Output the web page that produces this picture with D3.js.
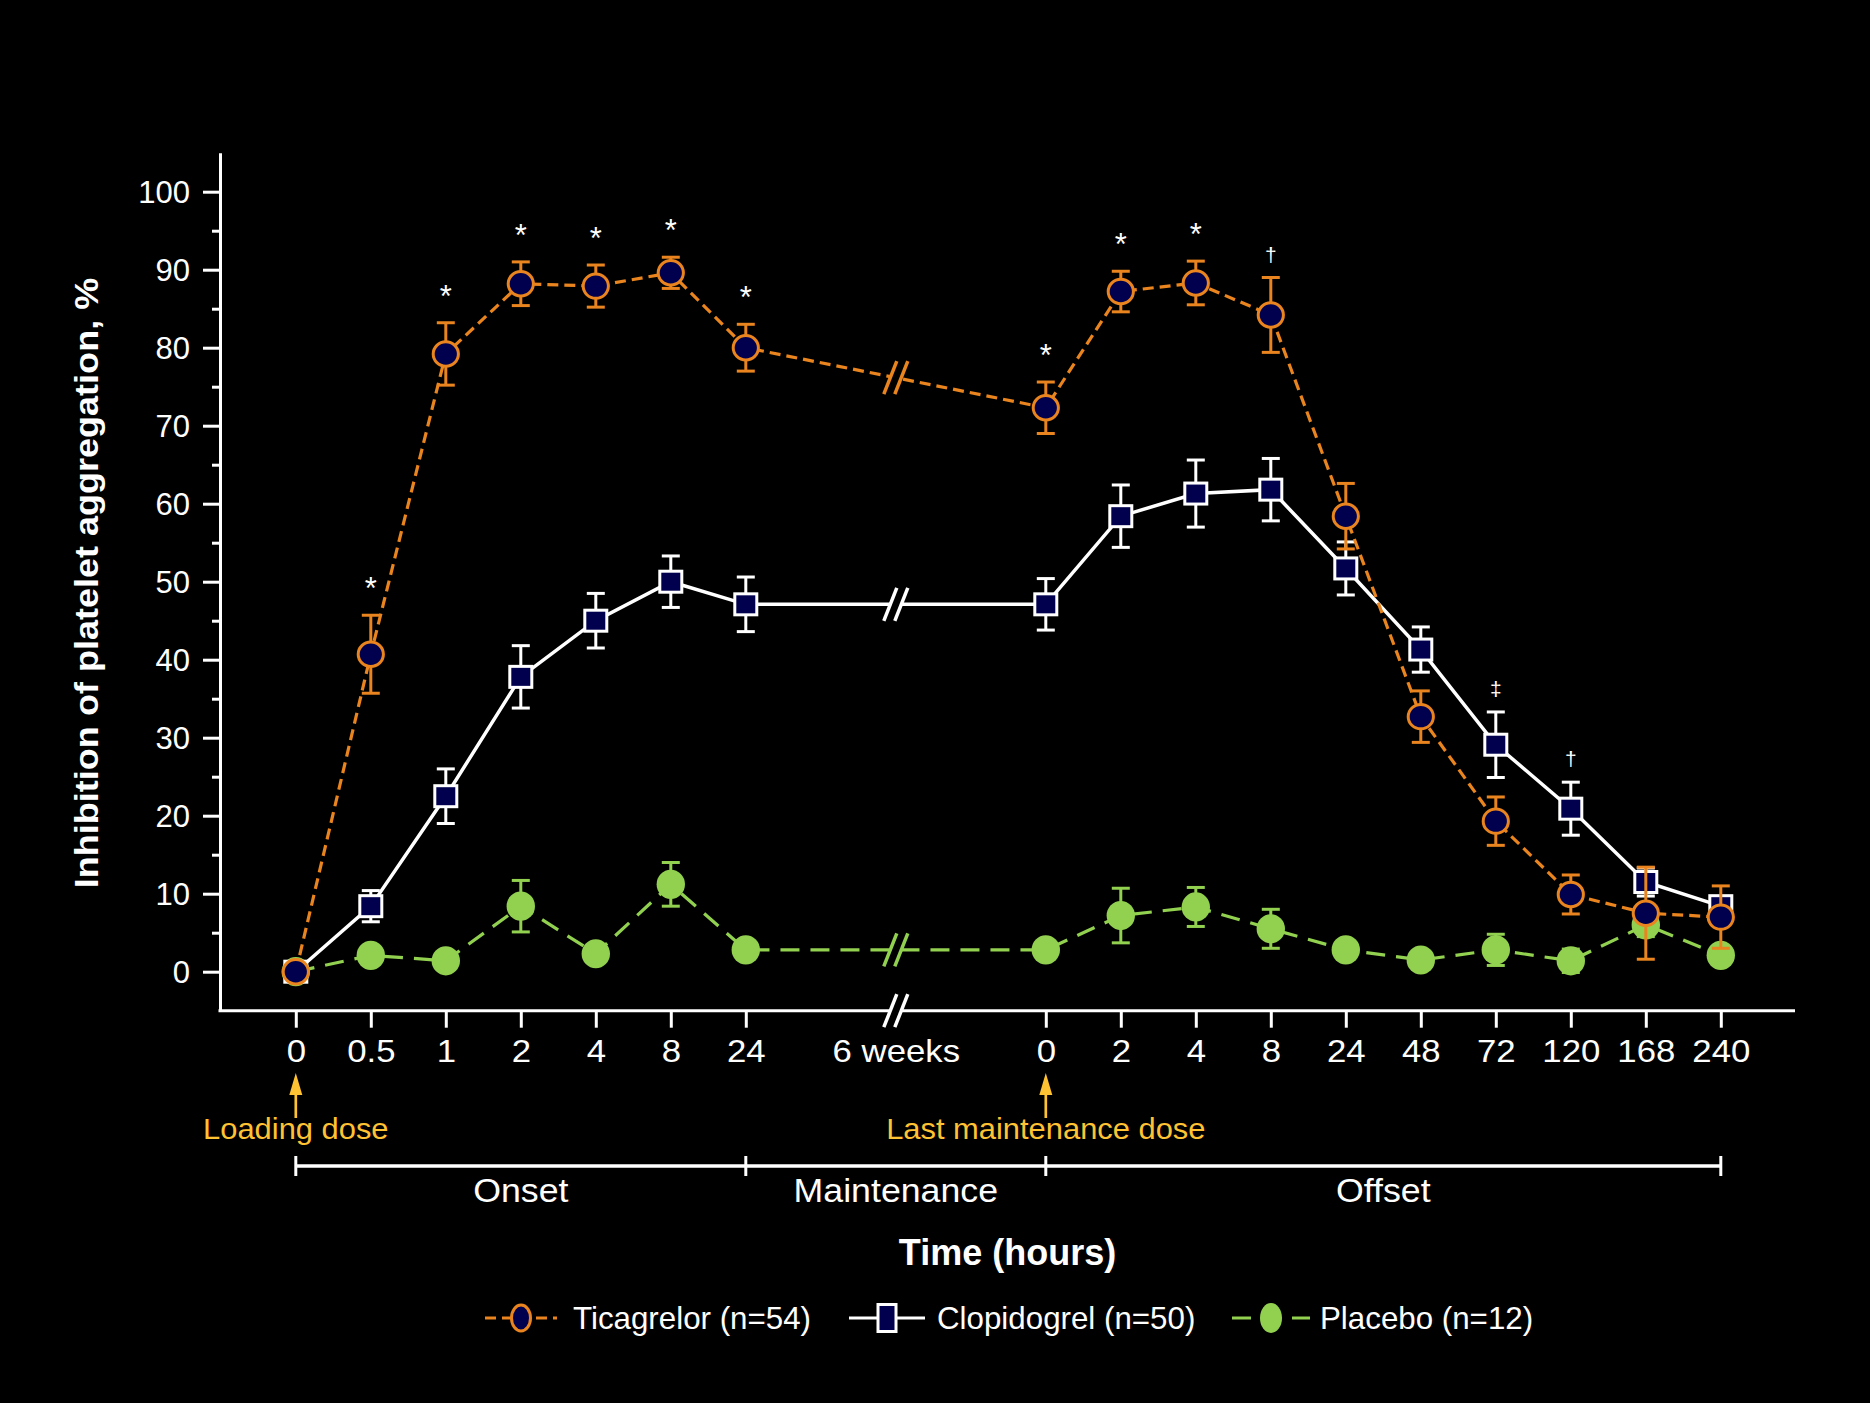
<!DOCTYPE html>
<html><head><meta charset="utf-8">
<script src="https://cdn.jsdelivr.net/npm/d3@7"></script>
<style>html,body{margin:0;background:#000;}svg{display:block;}</style>
</head><body>
<svg id="chart" width="1870" height="1403"></svg>
<script>
// ---------------- data ----------------
const timeLabels = ["0","0.5","1","2","4","8","24","6 weeks","0","2","4","8","24","48","72","120","168","240"];
const ticagrelor    = [0, 40.7, 79.2, 88.2, 87.9, 89.6, 80.0, null, 72.3, 87.2, 88.3, 84.2, 58.4, 32.7, 19.3, 9.9, 7.5, 7.0];
const ticagrelorErr = [0, 5.0, 4.0, 2.8, 2.7, 2.0, 3.0, null, 3.3, 2.6, 2.8, 4.8, 4.2, 3.3, 3.1, 2.5, 5.9, 4.0];
const clopidogrel    = [0, 8.4, 22.5, 37.8, 45.0, 50.0, 47.1, null, 47.1, 58.4, 61.3, 61.8, 51.7, 41.3, 29.1, 20.9, 11.5, 8.4];
const clopidogrelErr = [0, 2.0, 3.5, 4.0, 3.5, 3.3, 3.5, null, 3.3, 4.0, 4.3, 4.0, 3.4, 2.9, 4.2, 3.4, 1.8, 1.2];
const placebo    = [0, 2.1, 1.4, 8.4, 2.3, 11.2, 2.8, null, 2.8, 7.2, 8.3, 5.5, 2.8, 1.5, 2.8, 1.4, 6.0, 2.1];
const placeboErr = [0, 0.5, 0.5, 3.3, 0.6, 2.8, 0.8, null, 1.0, 3.5, 2.5, 2.5, 1.2, 0.8, 2.0, 1.5, 1.5, 0.8];
const ticagrelorMarks  = ["","*","*","*","*","*","*","","*","*","*","\u2020","","","","","",""];
const clopidogrelMarks = ["","","","","","","","","","","","","","","\u2021","\u2020","",""];
const yTicks = [0,10,20,30,40,50,60,70,80,90,100];
const yMinorTicks = [5,15,25,35,45,55,65,75,85,95];
const seriesNames = ["Ticagrelor (n=54)","Clopidogrel (n=50)","Placebo (n=12)"];
const phaseNames = ["Onset","Maintenance","Offset"];
const phaseBounds = [[0,6],[6,8],[8,17]];
const doseLabels = ["Loading dose","Last maintenance dose"];
const doseIndex = [0,8];
const breakIndex = 7;

// ---------------- style ----------------
const ORANGE = "#E9841E", NAVY = "#00004F", GREEN = "#92D050", YELLOW = "#FFC232", WHITE = "#FFFFFF";
const FONT = "'Liberation Sans', Arial, Helvetica, sans-serif";

const svg = d3.select("#chart");
svg.append("rect").attr("width",1870).attr("height",1403).attr("fill","#000");

// scales
const keys = [];
timeLabels.forEach((l,i)=>{ if(i===breakIndex) keys.push("g1"); keys.push(i); if(i===breakIndex) keys.push("g2"); });
const x = d3.scalePoint().domain(keys).range([295.8,1720.8]);
const y = d3.scaleLinear().domain([-5,105]).range([1010.7,152.7]);
const axisX0 = 220, axisX1 = 1795;

// ---------------- axes ----------------
const yAxisG = svg.append("g").attr("transform",`translate(${axisX0},0)`)
  .call(d3.axisLeft(y).tickValues(yTicks).tickSize(17).tickSizeOuter(0).tickPadding(13));
yAxisG.select(".domain").attr("stroke",WHITE).attr("stroke-width",3);
yAxisG.selectAll(".tick line").attr("stroke",WHITE).attr("stroke-width",3);
yAxisG.selectAll(".tick text").attr("fill",WHITE).attr("font-family",FONT).attr("font-size",31).attr("dy","0.35em");
const yMinorG = svg.append("g").attr("transform",`translate(${axisX0},0)`)
  .call(d3.axisLeft(y).tickValues(yMinorTicks).tickSize(8).tickFormat(""));
yMinorG.select(".domain").remove();
yMinorG.selectAll(".tick line").attr("stroke",WHITE).attr("stroke-width",3);

svg.append("line").attr("x1",axisX0-1.5).attr("x2",axisX1).attr("y1",y(-5)).attr("y2",y(-5))
  .attr("stroke",WHITE).attr("stroke-width",3);
const xAxisG = svg.append("g").attr("transform",`translate(0,${y(-5)})`)
  .call(d3.axisBottom(x).tickValues(timeLabels.map((l,i)=>i)).tickFormat(i=>timeLabels[i]).tickSize(17).tickPadding(12.3));
xAxisG.select(".domain").remove();
xAxisG.selectAll(".tick line").attr("stroke",WHITE).attr("stroke-width",3);
xAxisG.selectAll(".tick").filter(i=>i===breakIndex).select("line").remove();
xAxisG.selectAll(".tick text").attr("fill",WHITE).attr("font-family",FONT).attr("font-size",30.5)
  .attr("transform","scale(1.14,1)");

// break marks "//"
function breakMark(g, cx, cy, color){
  const hw = 6.5, hh = 16.5, off = 5.5;
  g.append("polygon").attr("points",
    [[cx-off-hw,cy+hh],[cx-off+hw,cy-hh],[cx+off+hw,cy-hh],[cx+off-hw,cy+hh]].map(p=>p.join(",")).join(" "))
    .attr("fill","#000");
  [-off, off].forEach(o=>{
    g.append("line").attr("x1",cx+o-hw).attr("y1",cy+hh).attr("x2",cx+o+hw).attr("y2",cy-hh)
      .attr("stroke",color).attr("stroke-width",3.5);
  });
}
breakMark(svg.append("g"), x(breakIndex), y(-5), WHITE);

// ---------------- series ----------------
function drawSeries(vals, errs, color, dash, lineW, marker){
  const pts = vals.map((v,i)=>({i,v,e:errs[i]})).filter(d=>d.v!==null);
  const g = svg.append("g");
  const line = d3.line().x(d=>x(d.i)).y(d=>y(d.v));
  g.append("path").datum(pts).attr("d",line).attr("fill","none").attr("stroke",color)
    .attr("stroke-width",lineW).attr("stroke-dasharray",dash);
  // break at 6 weeks: midpoint of the segment that spans it
  const a = pts.find(d=>d.i===breakIndex-1), b = pts.find(d=>d.i===breakIndex+1);
  breakMark(g, (x(a.i)+x(b.i))/2, (y(a.v)+y(b.v))/2, color);
  // error bars
  const eb = g.selectAll(".eb").data(pts.filter(d=>d.e>0)).enter().append("g");
  eb.append("line").attr("x1",d=>x(d.i)).attr("x2",d=>x(d.i)).attr("y1",d=>y(d.v-d.e)).attr("y2",d=>y(d.v+d.e))
    .attr("stroke",color).attr("stroke-width",3);
  [1,-1].forEach(s=>{
    eb.append("line").attr("x1",d=>x(d.i)-9).attr("x2",d=>x(d.i)+9)
      .attr("y1",d=>y(d.v+s*d.e)).attr("y2",d=>y(d.v+s*d.e)).attr("stroke",color).attr("stroke-width",3);
  });
  // markers
  const m = g.selectAll(".mk").data(pts).enter().append("g").attr("transform",d=>`translate(${x(d.i)},${y(d.v)})`);
  marker(m);
}

drawSeries(placebo, placeboErr, GREEN, "19,11", 3.2, m=>{
  m.append("ellipse").attr("rx",14.2).attr("ry",14.6).attr("fill",GREEN);
});
drawSeries(clopidogrel, clopidogrelErr, WHITE, null, 3.5, m=>{
  m.append("rect").attr("x",-11).attr("y",-10.5).attr("width",22).attr("height",21)
    .attr("fill",NAVY).attr("stroke",WHITE).attr("stroke-width",3);
});
drawSeries(ticagrelor, ticagrelorErr, ORANGE, "11,6", 3.2, m=>{
  m.append("ellipse").attr("rx",12.6).attr("ry",12.2).attr("fill",NAVY).attr("stroke",ORANGE).attr("stroke-width",3);
});

// significance marks
function drawMarks(marks, vals, errs){
  marks.forEach((s,i)=>{
    if(!s) return;
    const top = y(vals[i]+errs[i]);
    const isStar = s==="*";
    svg.append("text").attr("x",x(i)).attr("y", isStar ? top-16 : top-16)
      .attr("text-anchor","middle").attr("fill",WHITE).attr("font-family",FONT)
      .attr("font-size", isStar ? 31 : 21).text(s);
  });
}
drawMarks(ticagrelorMarks, ticagrelor, ticagrelorErr);
drawMarks(clopidogrelMarks, clopidogrel, clopidogrelErr);

// ---------------- dose arrows ----------------
doseIndex.forEach((di,k)=>{
  const cx = x(di);
  svg.append("line").attr("x1",cx).attr("x2",cx).attr("y1",1092).attr("y2",1118)
    .attr("stroke",YELLOW).attr("stroke-width",2.7);
  svg.append("polygon").attr("points",`${cx},1073 ${cx-6.5},1095 ${cx+6.5},1095`).attr("fill",YELLOW);
  svg.append("text").attr("transform",`translate(${cx},1139) scale(1.03,1)`).attr("text-anchor","middle")
    .attr("fill",YELLOW).attr("font-family",FONT).attr("font-size",30).text(doseLabels[k]);
});

// ---------------- phase bar ----------------
const phaseY = 1166;
svg.append("line").attr("x1",x(phaseBounds[0][0])).attr("x2",x(phaseBounds[2][1]))
  .attr("y1",phaseY).attr("y2",phaseY).attr("stroke",WHITE).attr("stroke-width",3.5);
const bounds = [phaseBounds[0][0], phaseBounds[1][0], phaseBounds[2][0], phaseBounds[2][1]];
bounds.forEach(b=>{
  svg.append("line").attr("x1",x(b)).attr("x2",x(b)).attr("y1",phaseY-10).attr("y2",phaseY+10)
    .attr("stroke",WHITE).attr("stroke-width",3);
});
phaseNames.forEach((p,k)=>{
  const cx = (x(phaseBounds[k][0])+x(phaseBounds[k][1]))/2;
  svg.append("text").attr("transform",`translate(${cx},1202) scale(1.05,1)`).attr("text-anchor","middle")
    .attr("fill",WHITE).attr("font-family",FONT).attr("font-size",34).text(p);
});

// ---------------- axis titles ----------------
svg.append("text").attr("x",(axisX0+axisX1)/2).attr("y",1265).attr("text-anchor","middle")
  .attr("fill",WHITE).attr("font-family",FONT).attr("font-weight","bold").attr("font-size",36).text("Time (hours)");
svg.append("text").attr("transform","translate(98,583) rotate(-90) scale(1.06,1)").attr("text-anchor","middle")
  .attr("fill",WHITE).attr("font-family",FONT).attr("font-weight","bold").attr("font-size",34)
  .text("Inhibition of platelet aggregation, %");

// ---------------- legend ----------------
const legY = 1318;
const legendItems = [
  {name:seriesNames[0], x0:485, x1:557, color:ORANGE, dash:"11,6", tx:573},
  {name:seriesNames[1], x0:849, x1:925, color:WHITE, dash:null, tx:937},
  {name:seriesNames[2], x0:1232, x1:1310, color:GREEN, dash:"19,11", tx:1320}
];
legendItems.forEach((it,k)=>{
  svg.append("line").attr("x1",it.x0).attr("x2",it.x1).attr("y1",legY).attr("y2",legY)
    .attr("stroke",it.color).attr("stroke-width",3.2).attr("stroke-dasharray",it.dash);
  const cx = (it.x0+it.x1)/2;
  if(k===0) svg.append("ellipse").attr("cx",cx).attr("cy",legY).attr("rx",9.5).attr("ry",13)
      .attr("fill",NAVY).attr("stroke",ORANGE).attr("stroke-width",3);
  if(k===1) svg.append("rect").attr("x",cx-9).attr("y",legY-13.5).attr("width",18).attr("height",27)
      .attr("fill",NAVY).attr("stroke",WHITE).attr("stroke-width",3);
  if(k===2) svg.append("ellipse").attr("cx",cx).attr("cy",legY).attr("rx",11).attr("ry",15).attr("fill",GREEN);
  svg.append("text").attr("x",it.tx).attr("y",1329).attr("fill",WHITE).attr("font-family",FONT)
    .attr("font-size",31.3).text(it.name);
});
</script>
</body></html>
